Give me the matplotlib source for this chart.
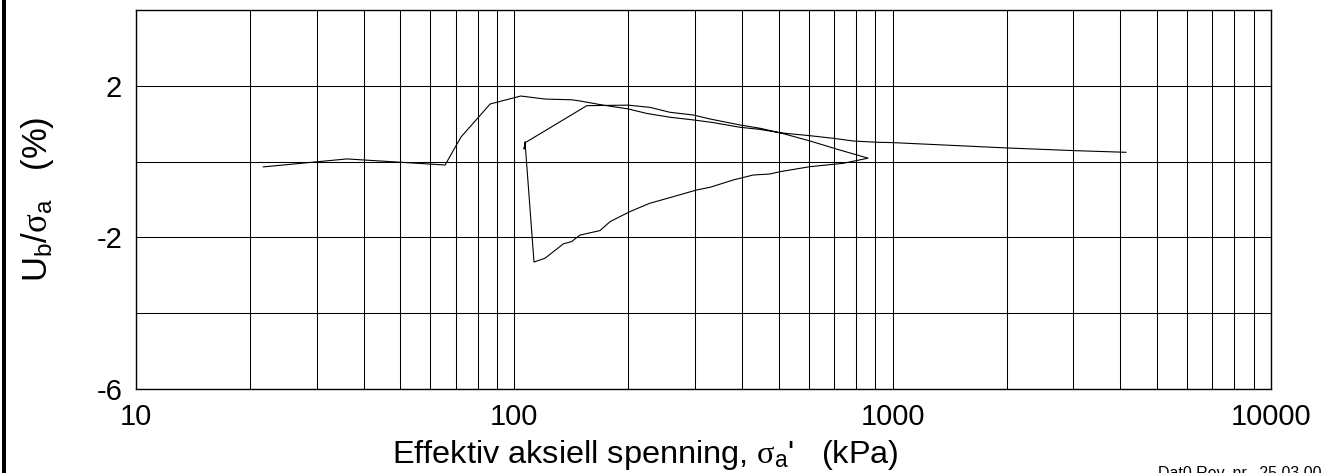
import matplotlib
matplotlib.use("Agg")
import matplotlib.pyplot as plt
from matplotlib.lines import Line2D
import numpy as np

plt.rcParams['font.family'] = ['Liberation Sans', 'DejaVu Sans']
plt.rcParams['mathtext.fontset'] = 'custom'
plt.rcParams['mathtext.rm'] = 'Liberation Sans'
plt.rcParams['mathtext.it'] = 'Liberation Serif'
plt.rcParams['axes.unicode_minus'] = False

# Loading branch: effective axial stress [kPa] and Ub/sigma_a [%]
load_stress = [21.7, 36.1, 65.6, 72.3, 86.3, 104, 120.5, 141.8, 149, 171.5, 199.7,
               224, 258, 296.7, 335, 395, 445.7, 503.8, 604.6, 711, 860.8]
load_ratio = [-0.14, 0.07, -0.09, 0.65, 1.52, 1.73, 1.65, 1.63, 1.60, 1.49, 1.39,
              1.27, 1.17, 1.10, 1.03, 0.905, 0.85, 0.76, 0.544, 0.33, 0.09]

# Unloading branch
unload_stress = [740.7, 604.6, 503.8, 474, 428, 379, 329, 303, 263, 228, 202,
                 179, 168.4, 149, 141.8, 134.8, 120.5, 112.7]
unload_ratio = [-0.045, -0.134, -0.266, -0.327, -0.354, -0.485, -0.678, -0.75,
                -0.926, -1.10, -1.32, -1.585, -1.82, -1.94, -2.11, -2.17, -2.55, -2.65]

# Reloading branch
reload_stress = [106.7, 106.1, 106.9, 155.4, 199.7, 228.4, 258, 296.7, 329, 395,
                 445.7, 503.8, 604.6, 695.5, 785.6, 908.8, 1004, 2001, 3002, 4137]
reload_ratio = [0.525, 0.33, 0.50, 1.475, 1.49, 1.43, 1.30, 1.23, 1.124, 0.966,
                0.88, 0.76, 0.683, 0.615, 0.544, 0.51, 0.50, 0.36, 0.29, 0.245]

x_ticks = [10, 100, 1000, 10000]
x_labels = ['10', '100', '1000', '10000']
y_ticks = [-6, -2, 2]
y_minor = [-4, 0]

stress = load_stress + unload_stress + reload_stress
ratio = load_ratio + unload_ratio + reload_ratio

fig = plt.figure(figsize=(13.26, 4.73), dpi=100, facecolor='white')
ax = fig.add_axes([0.1026, 0.1776, 0.8559, 0.8013])

ax.plot(stress, ratio, color='black', lw=0.8)

ax.set_xscale('log')
ax.set_xlim(10, 10000)
ax.set_ylim(-6, 4)

ax.set_xticks(x_ticks)
ax.set_xticklabels(x_labels)
ax.xaxis.set_minor_locator(matplotlib.ticker.LogLocator(base=10, subs=np.arange(2, 10)))
ax.xaxis.set_minor_formatter(matplotlib.ticker.NullFormatter())
ax.set_yticks(y_ticks)
ax.set_yticks(y_minor, minor=True)

ax.grid(True, which='both', color='black', lw=0.75)
ax.tick_params(which='both', length=0, labelsize=21)
ax.tick_params(axis='x', pad=10)
ax.tick_params(axis='y', pad=10)
for s in ax.spines.values():
    s.set_linewidth(1.0)

fig.text(645 / 1326, 1 - 463 / 473, r"Effektiv aksiell spenning, $\sigma_{\mathrm{a}}$'   (kPa)",
         fontsize=23.4, ha='center', va='baseline')
fig.text(38 / 1326, 1 - 199 / 473, r"U$_{\mathrm{b}}$/$\sigma_{\mathrm{a}}$   (%)",
         fontsize=25, ha='center', va='center', rotation=90)

fig.text(1158 / 1326, 1 - 466 / 473, "Dat0 Rev. nr.  25.03.00", fontsize=11.5,
         ha='left', va='top')

# page border on the left
fig.add_artist(Line2D([3.7 / 1326, 3.7 / 1326], [0, 1], color='black', lw=2.9,
                      transform=fig.transFigure))

fig.savefig('out.png', dpi=100)
